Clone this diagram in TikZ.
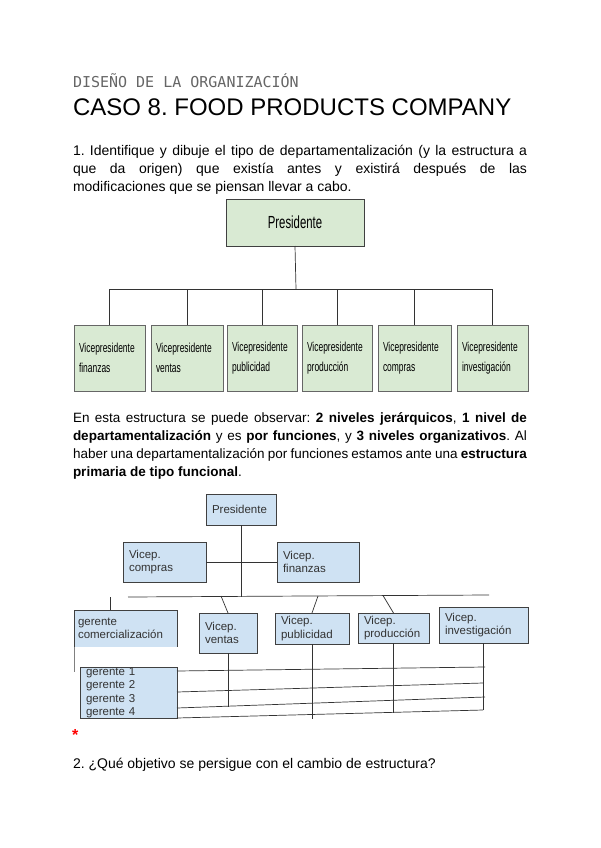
\documentclass[tikz,border=0pt]{standalone}
\usepackage{fontspec}
\setmainfont{Liberation Sans}
\newfontfamily\monofont{DejaVu Sans Mono}
\newfontfamily\narrowfont[FakeStretch=0.65]{Liberation Sans}
\usetikzlibrary{positioning}
\definecolor{greenfill}{HTML}{D9EAD3}
\definecolor{bluefill}{HTML}{CFE2F3}
\definecolor{titlegray}{HTML}{666666}
\frenchspacing

\begin{document}
\begin{tikzpicture}[x=1pt, y=-1pt,
    every node/.style={inner sep=0pt, outer sep=0pt},
    textline/.style={anchor=base west, font=\fontsize{14}{17}\selectfont},
    remark/.style={anchor=base west, font=\fontsize{13.5}{17}\selectfont},
    oldbox/.style={draw=black!60, fill=greenfill, line width=1pt, anchor=north west, align=left, inner xsep=5pt, minimum height=66pt, font=\narrowfont\fontsize{13}{20}\selectfont},
    newbox/.style={draw=black!75, fill=bluefill, line width=0.8pt, anchor=north west, align=left, inner xsep=6pt, text=black!80, font=\fontsize{11.5}{13.5}\selectfont},
    link/.style={draw=black!80, line width=0.7pt}
]
\useasboundingbox[fill=white] (0,0) rectangle (600,848);

\node[anchor=base west, text=titlegray, font=\monofont\fontsize{15}{18}\selectfont] (heading) at (73,88) {DISEÑO DE LA ORGANIZACIÓN};
\node[anchor=base west, font=\fontsize{24}{28}\selectfont] (caso) at (73,116) {CASO 8. FOOD PRODUCTS COMPANY};

\node[textline] (q1a) at (73,155) {\makebox[454pt][s]{1. Identifique y dibuje el tipo de departamentalización (y la estructura a}};
\node[textline] (q1b) at (73,173) {\makebox[454pt][s]{que da origen) que existía antes y existirá después de las}};
\node[textline] (q1c) at (73,191) {modificaciones que se piensan llevar a cabo.};

\node[oldbox, align=center, minimum width=138pt, minimum height=47pt, draw=black!75, font=\narrowfont\fontsize{17.5}{20}\selectfont] (pres) at (226,199) {Presidente};
\node[oldbox, text width=61pt] (vfin) at (74,325) {Vicepresidente\\finanzas};
\node[oldbox, text width=62pt] (vven) at (151,325) {Vicepresidente\\ventas};
\node[oldbox, text width=60pt] (vpub) at (227,325) {Vicepresidente\\publicidad};
\node[oldbox, text width=60pt] (vprod) at (302,325) {Vicepresidente\\producción};
\node[oldbox, text width=63pt] (vcomp) at (378,325) {Vicepresidente\\compras};
\node[oldbox, text width=61pt] (vinv) at (457,325) {Vicepresidente\\investigación};
\coordinate (bus) at (296,289);
\draw[link] (pres.south) -- (bus);
\draw[link] (vfin.north |- bus) -- (vinv.north |- bus);
\foreach \n in {vfin,vven,vpub,vprod,vcomp,vinv}
    \draw[link] (\n.north) -- (\n.north |- bus);

\node[remark] (r1) at (73,422) {\makebox[454pt][s]{En esta estructura se puede observar: \textbf{2 niveles jerárquicos}, \textbf{1 nivel de}}};
\node[remark] (r2) at (73,440) {\makebox[454pt][s]{\textbf{departamentalización} y es \textbf{por funciones}, y \textbf{3 niveles organizativos}. Al}};
\node[remark] (r3) at (73,458) {\makebox[454pt][s]{haber una departamentalización por funciones estamos ante una \textbf{estructura}}};
\node[remark] (r4) at (73,476) {\textbf{primaria de tipo funcional}.};

\node[newbox, text width=58pt, minimum height=31pt] (npres) at (206,494) {Presidente};
\node[newbox, text width=71pt, minimum height=40pt] (ncomp) at (123,542) {Vicep.\\compras};
\node[newbox, text width=70pt, minimum height=40pt] (nfin) at (277,542) {Vicep.\\finanzas};
\node[newbox, draw=none, inner xsep=4pt, text width=95pt, minimum height=37pt] (ngcom) at (74,610) {gerente\\comercialización};
\node[newbox, text width=46pt, minimum height=40pt] (nven) at (199,613) {Vicep.\\ventas};
\node[newbox, text width=62pt, minimum height=31pt] (npub) at (275,613) {Vicep.\\publicidad};
\node[newbox, text width=59pt, minimum height=30pt] (nprod) at (358,613) {Vicep.\\producción};
\node[newbox, text width=77pt, minimum height=36pt] (ninv) at (439,607) {Vicep.\\investigación};
\node[newbox, text width=85pt, minimum height=51pt] (nger) at (80,667) {gerente 1\\gerente 2\\gerente 3\\gerente 4};
\draw[draw=black!75, line width=0.8pt] (ngcom.south west) -- (ngcom.north west) -- (ngcom.north east) -- (ngcom.south east);

\coordinate (busL) at (128,597);
\coordinate (busR) at (489,595);
\coordinate (busM) at (241,596.5);
\draw[link] (npres.south) -- (busM);
\draw[link] (busL) -- (busR);
\draw[link] (ncomp) -- (nfin);
\coordinate (dgc) at (110,597);
\coordinate (dven) at (221,596);
\coordinate (dpub) at (318,596);
\coordinate (dprod) at (383,595.5);
\draw[link] (dgc) -- (dgc |- ngcom.north);
\draw[link] (dven) -- (nven.north);
\draw[link] (dpub) -- (npub.north);
\draw[link] (dprod) -- (nprod.north);
\coordinate (gcl) at (74,672);
\draw[link, draw=black!50] (ngcom.south west) -- (gcl);

\coordinate (even) at (228,707);
\coordinate (epub) at (312,719);
\coordinate (eprod) at (393.5,713);
\coordinate (einv) at (483.5,710);
\foreach \b/\e in {nven/even, npub/epub, nprod/eprod, ninv/einv}
    \draw[link] (\b.south) -- (\b.south |- \e);
\coordinate (h1) at (485,667);
\coordinate (h2) at (483,683);
\coordinate (h3) at (485,697);
\coordinate (h4) at (483,710);
\foreach \dy/\h in {4/h1, 25/h2, 41/h3, 51/h4}
    \draw[link] (nger.north east) ++(0,\dy) -- (\h);

\node[anchor=base west, text=red, font=\bfseries\fontsize{16}{16}\selectfont] (star) at (72,740) {*};
\node[textline] (q2) at (73,768) {2. ¿Qué objetivo se persigue con el cambio de estructura?};
\end{tikzpicture}
\end{document}
